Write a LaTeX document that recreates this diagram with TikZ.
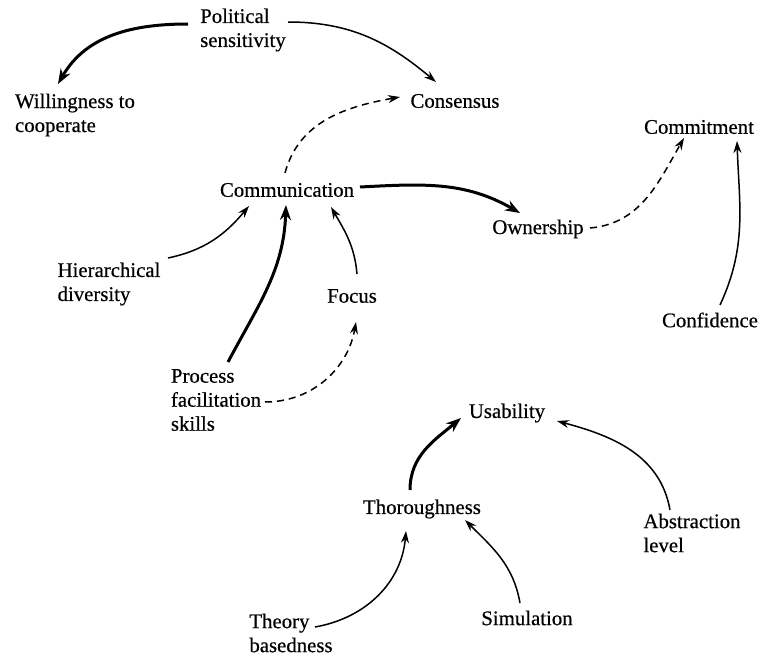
\documentclass[tikz,border=0pt]{standalone}
\usepackage{fontspec}
\setmainfont{Liberation Serif}[UprightFeatures={FakeBold=0.5}]
\usetikzlibrary{arrows.meta,calc}
\begin{document}
\begin{tikzpicture}[x=1bp,y=1bp,
  lbl/.style={font=\fontsize{20.8bp}{24bp}\selectfont, align=left, inner sep=0pt},
  conn/.style={line width=1.5bp, -{Stealth[length=12bp,width=8bp]}},
  strong/.style={line width=3bp, -{Stealth[length=15bp,width=11bp]}},
  dashconn/.style={line width=1.5bp, dash pattern=on 7bp off 5bp, -{Stealth[length=12bp,width=8bp]}}]
\useasboundingbox (0,0) rectangle (762,-658);

\node[lbl] (ps)   at (243,-30)  {Political\\sensitivity};
\node[lbl] (wil)  at (75,-115)  {Willingness to\\cooperate};
\node[lbl] (con)  at (455,-101) {Consensus};
\node[lbl] (cmt)  at (699,-127) {Commitment};
\node[lbl] (com)  at (287,-190) {Communication};
\node[lbl] (own)  at (538,-229) {Ownership};
\node[lbl] (hd)   at (109,-284) {Hierarchical\\diversity};
\node[lbl] (foc)  at (352,-296) {Focus};
\node[lbl] (conf) at (710,-320) {Confidence};
\node[lbl] (pfs)  at (216,-400) {Process\\facilitation\\skills};
\node[lbl] (us)   at (507,-413) {Usability};
\node[lbl] (th)   at (422,-509) {Thoroughness};
\node[lbl] (abs)  at (692,-533) {Abstraction\\level};
\node[lbl] (sim)  at (527,-618) {Simulation};
\node[lbl] (tb)   at (291,-633) {Theory\\basedness};

% Political sensitivity
\draw[strong] ($(ps)+(-55,6)$) to[out=180,in=60] ($(wil)+(-17,31)$);
\draw[conn] ($(ps)+(45,8)$) to[out=0,in=140] ($(con)+(-19,19)$);
% Communication
\draw[dashconn] ($(com)+(-2,17)$) to[out=75,in=190] ($(con)+(-55,4)$);
\draw[strong] ($(com)+(73,3)$) to[out=3,in=150] ($(own)+(-18,16)$);
% Commitment
\draw[dashconn] ($(own)+(52,1)$) to[out=5,in=-120] ($(cmt)+(-15,-11)$);
\draw[conn] ($(conf)+(10,15)$) to[out=65,in=-88] ($(cmt)+(38,-14)$);
% into Communication
\draw[conn] ($(hd)+(59,26)$) to[out=12,in=-130] ($(com)+(-38,-16)$);
\draw[strong] ($(pfs)+(12,38)$) to[out=62,in=-92] ($(com)+(-1,-15)$);
\draw[conn] ($(foc)+(5,22)$) to[out=95,in=-60] ($(com)+(44,-17)$);
\draw[dashconn] ($(pfs)+(49,-2)$) to[out=0,in=-100] ($(foc)+(4,-26)$);
% Usability
\draw[strong] ($(th)+(-12,19)$) to[out=90,in=-140] ($(us)+(-46,-5)$);
\draw[conn] ($(abs)+(-22,23)$) to[out=100,in=-15] ($(us)+(50,-8)$);
% Thoroughness
\draw[conn] ($(tb)+(24,6)$) to[out=10,in=-95] ($(th)+(-16,-22)$);
\draw[conn] ($(sim)+(-7,15)$) to[out=100,in=-45] ($(th)+(43,-11)$);
\end{tikzpicture}
\end{document}
